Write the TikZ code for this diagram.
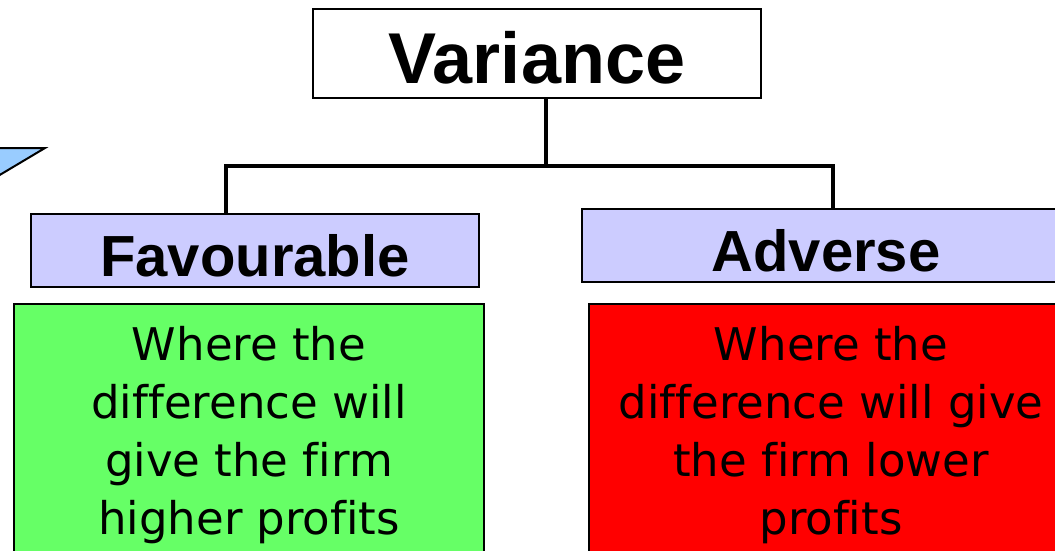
\documentclass[tikz,border=0pt]{standalone}
\usepackage{fontspec}
\setmainfont{Liberation Sans}
\newfontfamily\notefont[Ligatures=NoCommon]{DejaVu Sans}
\usepackage{tikz}
\usetikzlibrary{positioning, calc}

\definecolor{lilac}{HTML}{CCCCFF}
\definecolor{gaingreen}{HTML}{66FF66}
\definecolor{lossred}{HTML}{FF0000}
\definecolor{calloutblue}{HTML}{99CCFF}

\begin{document}
\begin{tikzpicture}[
		x=1pt, y=-1pt,
		head/.style={rectangle, draw, fill=white, line width=1.6pt, inner sep=0pt,
			minimum width=448pt, text height=75pt, text depth=14pt,
			font=\fontsize{72}{86}\selectfont\bfseries},
		kind/.style={rectangle, draw, fill=lilac, line width=2.4pt, inner sep=0pt,
			text height=62pt, text depth=11pt,
			font=\fontsize{58}{70}\selectfont\bfseries},
		panel/.style={rectangle, draw, line width=1.8pt, minimum height=300pt},
		note/.style={align=center, inner sep=0pt, anchor=base,
			font=\notefont\fontsize{45}{58}\selectfont},
		link/.style={line width=3.5pt}
	]
		\useasboundingbox (0,0) rectangle (1055,551);
		\clip (0,0) rectangle (1055,551);
		
		% corner of a callout coming in from the left
		\filldraw[fill=calloutblue, line width=2pt, line join=miter] (-2,148) -- (45,148) -- (-2,176);
		
		\node[head] (var) at (537,8) [anchor=north] {Variance};
		\node[kind, minimum width=448pt, anchor=north] (fav) at (255,213) {Favourable};
		\node[kind, minimum width=488pt, anchor=north] (adv) at (826,208) {Adverse};
		
		\node[panel, fill=gaingreen, minimum width=470pt, anchor=north] (gain) at (249,303) {};
		\node[panel, fill=lossred, minimum width=484pt, anchor=north] (loss) at (831,303) {};
		% base sits on the last line
		\node[note] (gaintxt) at (249,534) {Where the\\difference will\\give the firm\\higher profits};
		\node[note] (losstxt) at (831,534) {Where the\\difference will give\\the firm lower\\profits};
		
		\coordinate (bar) at (546,166);
		\coordinate (favleg) at ([xshift=-29pt]fav.north);
		\coordinate (advleg) at ([xshift=7pt]adv.north);
		\draw[link] (var.south -| bar) -- (bar);
		\draw[link] (favleg) |- (bar) -| (advleg);
	\end{tikzpicture}
\end{document}
